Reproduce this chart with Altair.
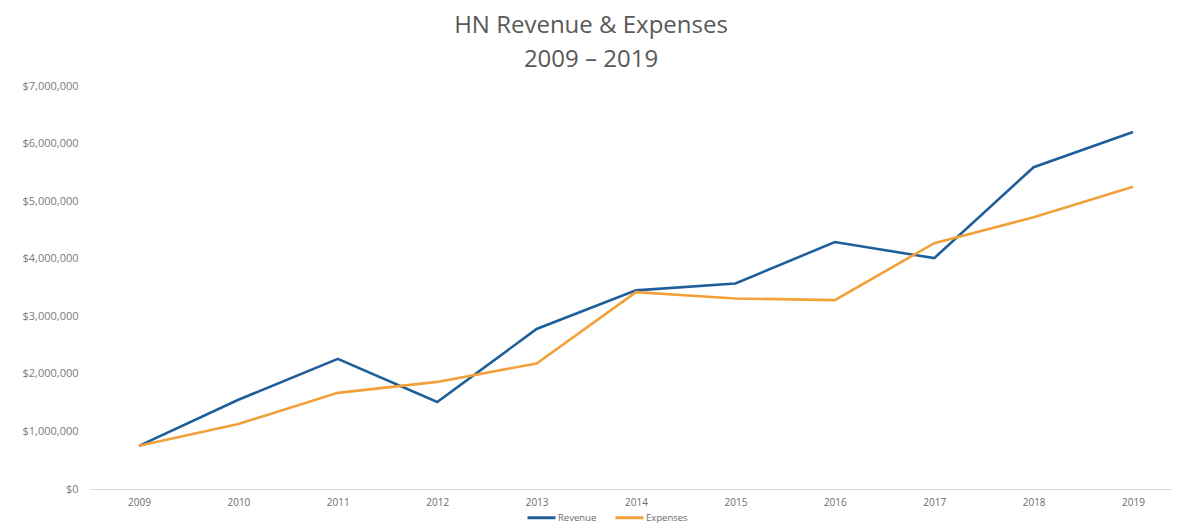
import altair as alt
import pandas as pd

years = [2009, 2010, 2011, 2012, 2013, 2014, 2015, 2016, 2017, 2018, 2019]
revenue = [750000, 1550000, 2260000, 1510000, 2780000, 3450000, 3570000, 4290000, 4010000, 5590000, 6200000]
expenses = [750000, 1130000, 1670000, 1860000, 2180000, 3420000, 3310000, 3280000, 4270000, 4720000, 5250000]
series_names = ["Revenue", "Expenses"]
series_colors = ["#1f5f99", "#f2a03a"]
y_ticks = [0, 1000000, 2000000, 3000000, 4000000, 5000000, 6000000, 7000000]

rows = []
for i, yr in enumerate(years):
    rows.append({"Year": yr, "Series": "Revenue", "Value": revenue[i]})
    rows.append({"Year": yr, "Series": "Expenses", "Value": expenses[i]})
df = pd.DataFrame(rows)

chart = alt.Chart(df).mark_line(strokeWidth=2.6).encode(
    x=alt.X("Year:Q",
            scale=alt.Scale(domain=[2008.507, 2019.392], nice=False, zero=False),
            axis=alt.Axis(values=years, format="d", title=None, ticks=False, grid=False,
                          domain=True, domainColor="#d9d9d9", domainWidth=1,
                          labelFont="Open Sans", labelFontSize=10, labelColor="#6b6b6b",
                          labelPadding=8, labelFlush=False)),
    y=alt.Y("Value:Q",
            scale=alt.Scale(domain=[0, 7000000], nice=False),
            axis=alt.Axis(values=y_ticks, format="$,.0f", title=None, ticks=False, grid=False,
                          domain=False, labelFont="Open Sans", labelFontSize=11,
                          labelColor="#7a7a7a", labelPadding=12)),
    color=alt.Color("Series:N",
                    scale=alt.Scale(domain=series_names, range=series_colors),
                    legend=alt.Legend(title=None, orient="none", direction="horizontal",
                                      legendX=436, legendY=416, symbolType="stroke",
                                      symbolSize=784, symbolStrokeWidth=3, labelOffset=1,
                                      columnPadding=12, labelFont="Open Sans",
                                      labelFontSize=9.5, labelColor="#6b6b6b")),
    order=alt.Order("Year:Q"),
).properties(
    width=1082,
    height=403,
    autosize=alt.AutoSizeParams(type="none"),
    padding={"left": 82, "top": 78, "right": 0, "bottom": 34},
    title=alt.TitleParams(text=["HN Revenue & Expenses", "2009 \u2013 2019"],
                          font="Open Sans", fontSize=24, fontWeight="normal", color="#595959",
                          anchor="middle", dx=-40, offset=8, lineHeight=34),
).configure_view(stroke=None)

chart.save("out.html", embed_options={"renderer": "svg", "actions": False})
